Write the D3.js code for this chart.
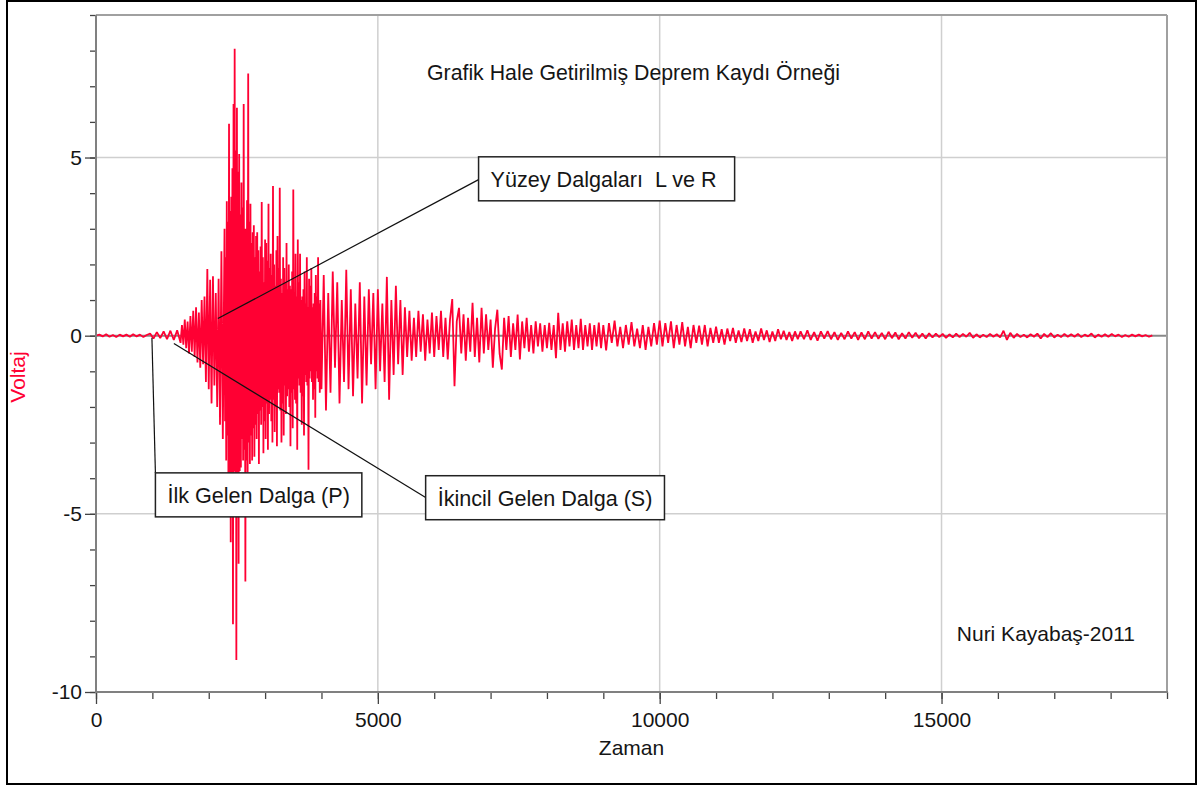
<!DOCTYPE html>
<html>
<head>
<meta charset="utf-8">
<script src="https://cdn.jsdelivr.net/npm/d3@7"></script>
<style>
	body { margin: 0; background: #fff; }
	svg text { font-family: "Liberation Sans", Arial, sans-serif; }
</style>
</head>
<body>
<svg id="grafik" width="1203" height="787"></svg>
<script>
//deprem kaydi, parca parca: her parcanin baslangic zamani ve ornekleme araligi ayri
//sessiz kayit, 0 - 1440, her 60 birimde bir
const sessizKayit = [0, 0.03, -0.02, 0.04, -0.03, 0.02, -0.04, 0.03, -0.02, 0.03, -0.03, 0.04, -0.02, 0.03, -0.04, 0.02,
	0.06, -0.08, 0.1, -0.07, 0.12, -0.1, 0.14, -0.12, 0.15];
//P dalgasi, 1500 - 2250, her 25 birimde bir
const pDalgasi = [-0.2, 0.3, -0.25, 0.45, -0.35, 0.4, -0.5, 0.55, -0.45, 0.7,
	-0.6, 0.8, -0.75, 0.65, -0.9, 1.0, -0.8, 1.1, -1.3, 1.87,
	-1.5, 1.57, -1.9, 1.67, -1.4, 1.2, -2.0, 1.6, -2.5, 2.37, -2.9];
//S dalgasi, 2280 - 3980, her 10 birimde bir
const sDalgasi = [3.0, -2.4, 2.2, -3.5, 3.77, -2.8, 3.2, -5.0, 5.95, -3.9,
	3.5, -5.8, 3.9, -4.2, 4.7, -8.1, 6.5, -3.8, 8.05, -4.5,
	5.2, -9.1, 6.4, -4.0, 4.6, -6.4, 5.1, -3.8, 3.4, -3.7,
	4.3, -2.9, 3.6, -3.5, 6.5, -3.2, 3.0, -6.9, 3.0, -3.5,
	3.8, -3.84, 7.36, -3.0, 3.2, -3.6, 3.7, -2.8, 2.6, -3.5,
	2.9, -2.6, 3.1, -3.4, 2.2, -2.5, 2.8, -2.9, 2.9, -2.2,
	2.4, -3.6, 1.8, -2.1, 2.5, -2.5, 3.75, -2.0, 2.2, -3.3,
	1.5, -2.4, 2.7, -2.9, 2.6, -1.9, 2.1, -3.2, 3.7, -2.2,
	1.9, -1.8, 2.3, -2.4, 1.7, -3.0, 4.2, -1.8, 2.0, -2.7,
	1.4, -2.0, 2.4, -3.1, 2.8, -1.5, 1.9, -1.6, 4.15, -2.1,
	1.6, -3.0, 1.2, -1.9, 2.2, -2.8, 1.9, -1.4, 1.5, -2.2,
	2.6, -1.7, 1.3, -1.5, 2.0, -2.0, 1.4, -3.1, 1.3, -1.6,
	1.8, -2.6, 4.1, -1.5, 1.2, -1.8, 2.3, -1.9, 1.1, -3.2,
	2.7, -1.2, 1.5, -1.4, 2.3, -1.6, 1.0, -2.5, 1.1, -1.7,
	1.3, -2.8, 1.8, -1.1, 0.9, -1.3, 2.2, -1.4, 0.8, -3.76,
	1.6, -1.2, 1.4, -1.0, 1.9, -1.3, 0.8, -1.8, 0.9, -1.5,
	1.2, -2.3, 1.7, -1.0, 1.1, -1.2, 2.2, -1.3, 0.9, -1.6,
	1.0];
//yuzey dalgalari, 4000 - 8960, her 40 birimde bir
const yuzeyDalgalari = [-1.5, 1.7, -2.1, 1.2, -1.6, 1.8, -0.9, 1.5, -1.9, 1.0,
	-1.3, 1.85, -1.5, 1.3, -1.7, 0.9, -1.2, 1.5, -1.9, 1.1,
	-1.4, 1.3, -0.8, 1.2, -1.5, 1.3, -1.0, 0.9, -1.3, 1.65,
	-1.8, 1.0, -1.1, 1.4, -0.8, 1.0, -1.1, 0.8, -0.6, 0.7,
	-0.7, 0.5, -0.6, 0.7, -0.45, 0.6, -0.7, 0.45, -0.5, 0.65,
	-0.6, 0.55, -0.4, 0.7, -0.6, 0.5, -0.67, 0.45, 1.03, -1.42,
	0.4, 0.78, -0.5, 0.6, -0.7, 0.5, -0.45, 0.92, -0.6, 0.5,
	-0.75, 0.78, -0.5, 0.6, -0.4, 0.45, -0.9, 0.2, 0.73, -0.5,
	-0.95, 0.5, -0.4, 0.55, -0.6, 0.35, -0.4, 0.59, -0.67, 0.4,
	-0.35, 0.5, -0.45, 0.3, -0.5, 0.4, -0.3, 0.35, -0.45, 0.3,
	-0.35, 0.36, -0.4, 0.3, -0.63, 0.64, -0.4, 0.35, -0.45, 0.4,
	-0.3, 0.45, -0.4, 0.3, -0.35, 0.47, -0.4, 0.3, -0.3, 0.35,
	-0.4, 0.3, -0.3, 0.37, -0.35];
//kuyruk, 9000 - 12450, her 50 birimde bir
const kuyruk = [0.3, -0.41, 0.35, -0.2, 0.42, -0.3, 0.25, -0.35, 0.3, -0.25,
	0.38, -0.3, 0.2, -0.35, 0.3, -0.4, 0.25, -0.3, 0.35, -0.25,
	0.42, -0.3, 0.35, -0.2, 0.4, -0.35, 0.3, -0.25, 0.38, -0.3,
	0.25, -0.35, 0.3, -0.2, 0.28, -0.25, 0.3, -0.3, 0.22, -0.2,
	0.25, -0.2, 0.18, -0.25, 0.2, -0.15, 0.22, -0.2, 0.15, -0.18,
	0.2, -0.15, 0.18, -0.2, 0.12, -0.15, 0.2, -0.12, 0.15, -0.18,
	0.12, -0.15, 0.18, -0.1, 0.14, -0.12, 0.1, -0.15, 0.12, -0.1];
//kuyrugun sonu, 12500 - 18740, her 60 birimde bir
const kuyrukSonu = [0.12, -0.1, 0.15, -0.12, 0.1, -0.14, 0.12, -0.08, 0.13, -0.1,
	0.1, -0.12, 0.08, -0.1, 0.12, -0.08, 0.1, -0.12, 0.09, -0.1,
	0.12, -0.08, 0.1, -0.09, 0.08, -0.1, 0.11, -0.07, 0.09, -0.1,
	0.07, -0.08, 0.1, -0.06, 0.08, -0.07, 0.06, -0.08, 0.07, -0.05,
	0.06, -0.04, 0.05, -0.06, 0.04, -0.05, 0.06, -0.04, 0.05, -0.03,
	0.08, -0.06, 0.04, -0.05, 0.03, -0.04, 0.05, -0.03, 0.04, -0.05,
	0.14, -0.12, 0.08, -0.06, 0.05, -0.04, 0.03, -0.05, 0.04, -0.03,
	0.06, -0.08, 0.05, -0.04, 0.07, -0.05, 0.03, -0.04, 0.05, -0.03,
	0.04, -0.03, 0.05, -0.04, 0.03, -0.02, 0.06, -0.05, 0.03, -0.03,
	0.04, -0.03, 0.05, -0.02, 0.03, -0.04, 0.02, -0.03, 0.03, -0.02,
	0.03, -0.02, 0.02, -0.03, 0.01];

const parcaBaslangic = [0, 1500, 2280, 4000, 9000, 12500];
const parcaAralik = [60, 25, 10, 40, 50, 60];
const parcalar = [sessizKayit, pDalgasi, sDalgasi, yuzeyDalgalari, kuyruk, kuyrukSonu];

//eksen isaretleri
const xAnaIsaret = [0, 5000, 10000, 15000];
const xAraIsaret = d3.range(0, 19001, 1000);
const yAnaIsaret = [-10, -5, 0, 5];
const yAraIsaret = d3.range(-10, 10, 1);

//aciklama kutulari: hedef nokta, kutunun sol ust kosesi ve cizginin kutuya degdigi yer (zaman, voltaj)
const notlar = ["Yüzey Dalgaları  L ve R ", "İlk Gelen Dalga (P)", "İkincil Gelen Dalga (S)"];
const notHedefZaman = [2162, 992, 1382];
const notHedefVoltaj = [0.48, -0.06, -0.22];
const notKutuZaman = [6787, 1054, 5848];
const notKutuVoltaj = [5.02, -3.85, -3.93];
const notUcVoltaj = [4.38, -3.85, -4.54];

const margin = {top: 15, right: 36, bottom: 95, left: 96},
	  width = 1203 - margin.left - margin.right,
	  height = 787 - margin.top - margin.bottom;

const dalgaRengi = "#ff0033";

var x = d3.scaleLinear().domain([0, 19000]).range([0, width]);
var y = d3.scaleLinear().domain([-10, 9]).range([height, 0]);

var root = d3.select("#grafik");

//dis cerceve
root.append("rect")
	.attr("x", 7).attr("y", 1)
	.attr("width", 1189).attr("height", 783)
	.attr("fill", "none")
	.attr("stroke", "#000")
	.attr("stroke-width", 2);

var svg = root.append("g")
	.attr("transform", "translate(" + margin.left + "," + margin.top + ")");

//izgara cizgileri
[5, -5].forEach(function(v) {
	svg.append("line")
		.attr("x1", 0).attr("x2", width)
		.attr("y1", y(v)).attr("y2", y(v))
		.attr("stroke", "#cfcfcf").attr("stroke-width", 1.5);
});
[5000, 10000, 15000].forEach(function(t) {
	svg.append("line")
		.attr("x1", x(t)).attr("x2", x(t))
		.attr("y1", 0).attr("y2", height)
		.attr("stroke", "#cfcfcf").attr("stroke-width", 1.5);
});
//sifir cizgisi
svg.append("line")
	.attr("x1", 0).attr("x2", width)
	.attr("y1", y(0)).attr("y2", y(0))
	.attr("stroke", "#888").attr("stroke-width", 2);

//tum parcalari tek bir noktalar listesine cevir
var noktalar = [];
for (let p = 0; p < parcalar.length; p++) {
	parcalar[p].forEach(function(v, i) {
		noktalar.push([parcaBaslangic[p] + i * parcaAralik[p], v]);
	});
}

svg.append("path")
	.datum(noktalar)
	.attr("fill", "none")
	.attr("stroke", dalgaRengi)
	.attr("stroke-width", 1.8)
	.attr("stroke-linejoin", "bevel")
	.attr("d", d3.line()
		.x(function(d) { return x(d[0]); })
		.y(function(d) { return y(d[1]); }));

//grafik alaninin kenarlari: ust ve sag acik gri, sol ve alt koyu gri
svg.append("line").attr("x1", 0).attr("x2", width).attr("y1", 0).attr("y2", 0)
	.attr("stroke", "#a0a0a0").attr("stroke-width", 2);
svg.append("line").attr("x1", width).attr("x2", width).attr("y1", 0).attr("y2", height)
	.attr("stroke", "#a0a0a0").attr("stroke-width", 2);

//y ekseni
var yAra = svg.append("g").call(d3.axisLeft(y).tickValues(yAraIsaret).tickSize(6).tickFormat(""));
var yAna = svg.append("g").call(d3.axisLeft(y).tickValues(yAnaIsaret).tickSize(11).tickPadding(3)
	.tickFormat(function(d) { return String(d); }));
//x ekseni
var xAra = svg.append("g").attr("transform", "translate(0," + height + ")")
	.call(d3.axisBottom(x).tickValues(xAraIsaret).tickSize(7).tickFormat(""));
var xAna = svg.append("g").attr("transform", "translate(0," + height + ")")
	.call(d3.axisBottom(x).tickValues(xAnaIsaret).tickSize(12).tickPadding(8)
		.tickFormat(function(d) { return String(d); }));

[yAra, yAna, xAra, xAna].forEach(function(g) {
	g.select(".domain").remove();
	g.selectAll(".tick line").attr("stroke", "#444").attr("stroke-width", 1.3);
	g.selectAll(".tick text").attr("font-size", 21).attr("fill", "#151515")
		.attr("font-family", "\"Liberation Sans\", Arial, sans-serif");
});

svg.append("line").attr("x1", 0).attr("x2", 0).attr("y1", 0).attr("y2", height + 1)
	.attr("stroke", "#808080").attr("stroke-width", 2);
svg.append("line").attr("x1", -1).attr("x2", width + 1).attr("y1", height).attr("y2", height)
	.attr("stroke", "#808080").attr("stroke-width", 2);

//eksen basliklari
svg.append("text")
	.attr("x", width / 2).attr("y", height + 63)
	.attr("text-anchor", "middle")
	.attr("font-size", 21).attr("fill", "#151515")
	.text("Zaman");
svg.append("text")
	.attr("transform", "translate(" + (25 - margin.left) + "," + 362 + ") rotate(-90)")
	.attr("text-anchor", "middle")
	.attr("font-size", 21).attr("fill", dalgaRengi)
	.text("Voltaj");

//baslik ve imza
svg.append("text")
	.attr("x", width / 2 + 2).attr("y", 65)
	.attr("text-anchor", "middle")
	.attr("font-size", 21.3).attr("fill", "#151515")
	.text("Grafik Hale Getirilmiş Deprem Kaydı Örneği");
svg.append("text")
	.attr("x", 1135 - margin.left).attr("y", 626)
	.attr("text-anchor", "end")
	.attr("font-size", 21).attr("fill", "#151515")
	.text("Nuri Kayabaş-2011");

//aciklamalar: once cizgi, sonra beyaz kutu ve yazi
for (let n = 0; n < notlar.length; n++) {
	svg.append("line")
		.attr("x1", x(notHedefZaman[n])).attr("y1", y(notHedefVoltaj[n]))
		.attr("x2", x(notKutuZaman[n])).attr("y2", y(notUcVoltaj[n]))
		.attr("stroke", "#111").attr("stroke-width", 1.2);
	let kutu = svg.append("g")
		.attr("transform", "translate(" + x(notKutuZaman[n]) + "," + y(notKutuVoltaj[n]) + ")");
	let cerceve = kutu.append("rect")
		.attr("height", 44)
		.attr("fill", "#fff")
		.attr("stroke", "#222")
		.attr("stroke-width", 1.5);
	let yazi = kutu.append("text")
		.attr("x", 12).attr("y", 30)
		.attr("font-size", 21.6).attr("fill", "#151515")
		.style("white-space", "pre")
		.text(notlar[n]);
	cerceve.attr("width", yazi.node().getComputedTextLength() + 24);
}
</script>
</body>
</html>
